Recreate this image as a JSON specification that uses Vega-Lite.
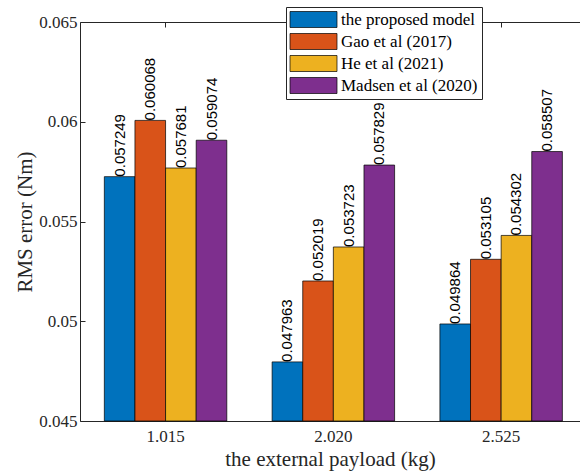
{
  "$schema": "https://vega.github.io/schema/vega-lite/v6.json",
  "width": 500,
  "height": 399,
  "autosize": {"type": "none"},
  "padding": {"left": 80, "top": 22, "right": 0, "bottom": 55},
  "background": "white",
  "config": {
    "view": {"stroke": null},
    "axis": {
      "domainColor": "#262626",
      "tickColor": "#262626",
      "labelColor": "#262626",
      "titleColor": "#262626",
      "labelFont": "Liberation Serif",
      "titleFont": "Liberation Serif",
      "labelFontSize": 17,
      "titleFontSize": 21,
      "titleFontWeight": "normal",
      "grid": false,
      "domainWidth": 1,
      "tickWidth": 1
    }
  },
  "data": {
    "values": [
      {"payload": "1.015", "model": "the proposed model", "rms": 0.057249},
      {"payload": "1.015", "model": "Gao et al (2017)", "rms": 0.060068},
      {"payload": "1.015", "model": "He et al (2021)", "rms": 0.057681},
      {"payload": "1.015", "model": "Madsen et al (2020)", "rms": 0.059074},
      {"payload": "2.020", "model": "the proposed model", "rms": 0.047963},
      {"payload": "2.020", "model": "Gao et al (2017)", "rms": 0.052019},
      {"payload": "2.020", "model": "He et al (2021)", "rms": 0.053723},
      {"payload": "2.020", "model": "Madsen et al (2020)", "rms": 0.057829},
      {"payload": "2.525", "model": "the proposed model", "rms": 0.049864},
      {"payload": "2.525", "model": "Gao et al (2017)", "rms": 0.053105},
      {"payload": "2.525", "model": "He et al (2021)", "rms": 0.054302},
      {"payload": "2.525", "model": "Madsen et al (2020)", "rms": 0.058507}
    ]
  },
  "layer": [
    {
      "mark": {"type": "bar", "stroke": "black", "strokeWidth": 0.7},
      "encoding": {
        "x": {
          "field": "payload",
          "type": "nominal",
          "scale": {"paddingInner": 0.27, "paddingOuter": 0.125, "align": 0.58},
          "axis": {
            "orient": "bottom",
            "labelAngle": 0,
            "ticks": false,
            "labelPadding": 7,
            "title": "the external payload (kg)",
            "titlePadding": 4
          }
        },
        "xOffset": {
          "field": "model",
          "type": "nominal",
          "sort": ["the proposed model", "Gao et al (2017)", "He et al (2021)", "Madsen et al (2020)"],
          "scale": {"paddingInner": 0, "paddingOuter": 0}
        },
        "y": {
          "field": "rms",
          "type": "quantitative",
          "scale": {"domain": [0.045, 0.065], "nice": false, "zero": false, "clamp": true},
          "axis": {
            "values": [0.045, 0.05, 0.055, 0.06, 0.065],
            "format": "~g",
            "tickSize": -5,
            "labelPadding": 8,
            "title": "RMS error (Nm)",
            "titlePadding": 3
          }
        },
        "color": {
          "field": "model",
          "type": "nominal",
          "sort": ["the proposed model", "Gao et al (2017)", "He et al (2021)", "Madsen et al (2020)"],
          "scale": {
            "domain": ["the proposed model", "Gao et al (2017)", "He et al (2021)", "Madsen et al (2020)"],
            "range": ["#0072BD", "#D95319", "#EDB120", "#7E2F8E"]
          },
          "legend": {
            "orient": "none",
            "legendX": 206,
            "legendY": -15,
            "title": null,
            "fillColor": "white",
            "strokeColor": "#262626",
            "padding": 4,
            "symbolType": "M-1.0625,-1H4.8125V1H-1.0625Z",
            "symbolSize": 256,
            "symbolStrokeColor": "black",
            "symbolStrokeWidth": 0.7,
            "symbolOpacity": 1,
            "labelFont": "Liberation Serif",
            "labelFontSize": 17,
            "labelColor": "black",
            "labelOffset": 34,
            "labelLimit": 300,
            "rowPadding": 3
          }
        }
      }
    },
    {
      "mark": {
        "type": "text",
        "angle": 270,
        "align": "left",
        "baseline": "middle",
        "font": "Liberation Sans",
        "fontSize": 15,
        "color": "black",
        "dx": 0
      },
      "encoding": {
        "x": {
          "field": "payload",
          "type": "nominal",
          "axis": {
            "orient": "top",
            "labels": false,
            "tickSize": -5,
            "title": null,
            "domain": true
          }
        },
        "xOffset": {
          "field": "model",
          "type": "nominal",
          "sort": ["the proposed model", "Gao et al (2017)", "He et al (2021)", "Madsen et al (2020)"]
        },
        "y": {"field": "rms", "type": "quantitative"},
        "text": {"field": "rms", "type": "quantitative", "format": ".6f"}
      }
    }
  ],
  "resolve": {"axis": {"x": "independent"}}
}
